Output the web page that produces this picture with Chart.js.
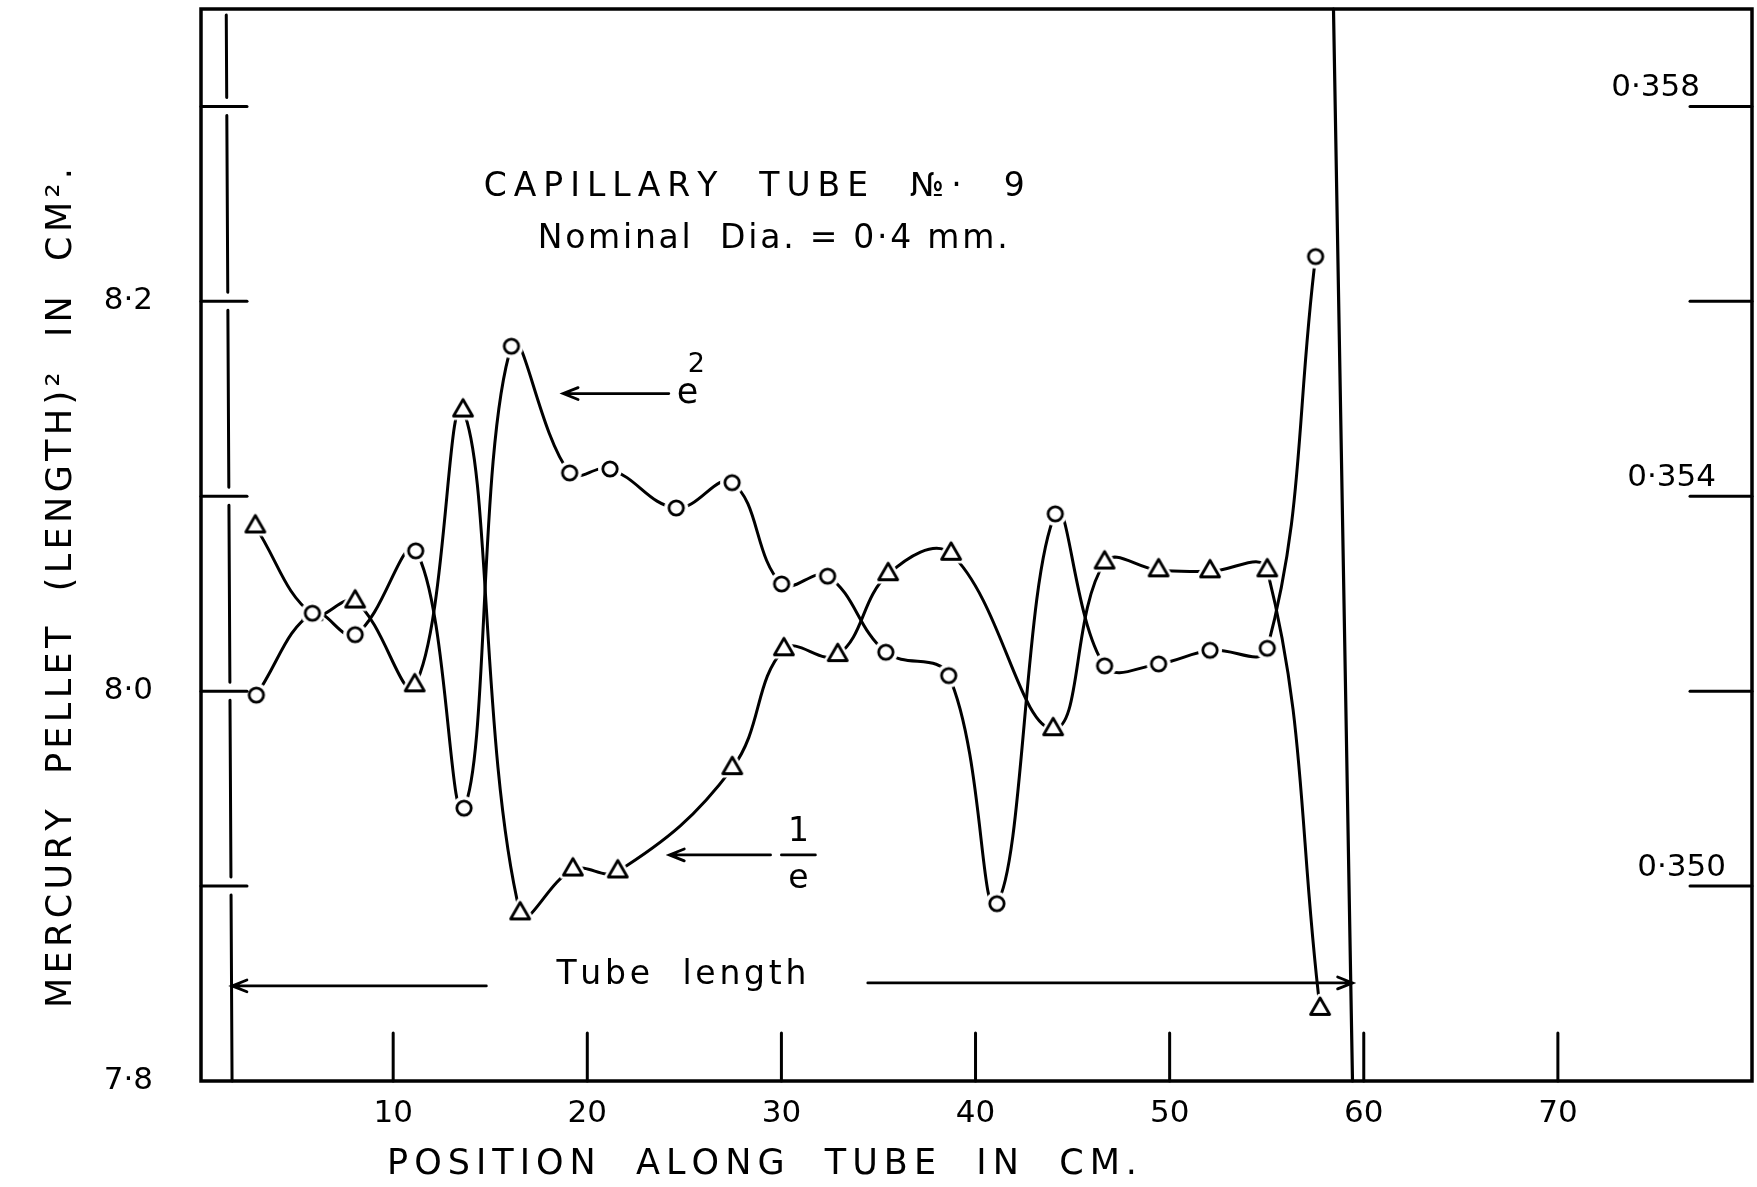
<!DOCTYPE html>
<html>
<head>
<meta charset="utf-8">
<script src="https://cdn.jsdelivr.net/npm/chart.js@4/dist/chart.umd.min.js"></script>
<style>
  html, body { margin: 0; padding: 0; background: #fff; }
</style>
</head>
<body>
<canvas id="chart" width="1757" height="1187"></canvas>
<script>
// e^2 readings (circles) - left axis, cm^2
const e2Pos  = [2.95, 5.84, 8.04, 11.16, 13.65, 16.09, 19.09, 21.17, 24.58, 27.46, 30.01,
                32.38, 35.38, 38.62, 41.10, 44.11, 46.65, 49.43, 52.08, 55.03, 57.52];
const e2Vals = [7.998, 8.040, 8.029, 8.072, 7.940, 8.177, 8.112, 8.114, 8.094, 8.107, 8.055,
                8.059, 8.020, 8.008, 7.891, 8.091, 8.013, 8.014, 8.021, 8.022, 8.223];

// 1/e readings (triangles) - right axis
const invEPos  = [2.90, 5.84, 8.04, 11.11, 13.60, 16.54, 19.26, 21.57, 27.47, 30.13,
                  32.90, 35.50, 38.74, 44.00, 46.65, 49.43, 52.08, 55.03, 57.75];
const invEVals = [0.35369, 0.35279, 0.35292, 0.35206, 0.35488, 0.34972, 0.35017, 0.35015, 0.35121, 0.35243,
                  0.35237, 0.35320, 0.35341, 0.35161, 0.35332, 0.35324, 0.35323, 0.35324, 0.34874];

// axes
const xTicks = [10, 20, 30, 40, 50, 60, 70];
const xTickLabels = ['10', '20', '30', '40', '50', '60', '70'];
const leftTicks = [7.9, 8.0, 8.1, 8.2, 8.3];
const leftLabelVals = [7.8, 8.0, 8.2];
const leftLabels = ['7·8', '8·0', '8·2'];
const rightTicks = [0.350, 0.352, 0.354, 0.356, 0.358];
const rightLabelVals = [0.350, 0.354, 0.358];
const rightLabels = ['0·350', '0·354', '0·358'];

// ends of the tube (x at top, x at bottom of plot)
const tubeStart = [1.4, 1.7];
const tubeEnd = [58.44, 59.42];

const FONT = '"DejaVu Sans", "Liberation Sans", sans-serif';

// marker images with a white halo so the curve stops short of the symbol
function marker(kind) {
  const c = document.createElement('canvas');
  c.width = 36; c.height = 36;
  const g = c.getContext('2d');
  const m = 18;
  function path(r) {
    g.beginPath();
    if (kind === 'circle') {
      g.arc(m, m, r, 0, Math.PI * 2);
    } else {
      g.moveTo(m, m - r);
      g.lineTo(m + r * 0.866, m + r * 0.5);
      g.lineTo(m - r * 0.866, m + r * 0.5);
      g.closePath();
    }
  }
  g.lineJoin = 'round';
  g.fillStyle = '#fff';
  g.strokeStyle = '#fff';
  g.lineWidth = 8;
  path(kind === 'circle' ? 8 : 11);
  g.fill(); g.stroke();
  g.strokeStyle = '#000';
  g.lineWidth = 2.8;
  path(kind === 'circle' ? 7.2 : 11);
  g.fill(); g.stroke();
  return c;
}

function arrow(g, x1, y1, x2, y2) {
  g.beginPath();
  g.moveTo(x1, y1); g.lineTo(x2, y2);
  const a = Math.atan2(y2 - y1, x2 - x1);
  const L = 16, s = 0.38;
  g.moveTo(x2 - L * Math.cos(a - s), y2 - L * Math.sin(a - s));
  g.lineTo(x2, y2);
  g.lineTo(x2 - L * Math.cos(a + s), y2 - L * Math.sin(a + s));
  g.stroke();
}

// spread characters so a string fills a given width (hand lettering look)
function spaced(g, text, cx, cy, width) {
  const chars = [...text];
  const ws = chars.map(ch => g.measureText(ch).width);
  const total = ws.reduce((a, b) => a + b, 0);
  const extra = chars.length > 1 ? (width - total) / (chars.length - 1) : 0;
  let x = cx - width / 2;
  g.textAlign = 'left';
  chars.forEach((ch, i) => { g.fillText(ch, x, cy); x += ws[i] + extra; });
}

const framePlugin = {
  id: 'frame',
  afterDraw(chart) {
    const g = chart.ctx;
    const a = chart.chartArea;
    const sx = chart.scales.x, sy = chart.scales.y, sr = chart.scales.y2;
    const px = v => sx.getPixelForValue(v);
    const py = v => sy.getPixelForValue(v);
    g.save();
    g.strokeStyle = '#000';
    g.fillStyle = '#000';
    g.lineCap = 'round';

    // frame
    g.lineWidth = 3.5;
    g.strokeRect(a.left, a.top, a.right - a.left, a.bottom - a.top);

    // left ticks and labels
    g.lineWidth = 3;
    leftTicks.forEach(v => {
      g.beginPath(); g.moveTo(a.left, py(v)); g.lineTo(a.left + 46, py(v)); g.stroke();
    });
    g.font = '31px ' + FONT;
    g.textBaseline = 'middle';
    g.textAlign = 'right';
    leftLabelVals.forEach((v, i) => g.fillText(leftLabels[i], 153, py(v)));

    // right ticks and labels (labels sit just above their tick, hand placed)
    rightTicks.forEach(v => {
      const y = sr.getPixelForValue(v);
      g.beginPath(); g.moveTo(a.right - 62, y); g.lineTo(a.right, y); g.stroke();
    });
    const rightLabelInset = [26, 36, 52];
    g.textBaseline = 'alphabetic';
    rightLabelVals.forEach((v, i) =>
      g.fillText(rightLabels[i], a.right - rightLabelInset[i], sr.getPixelForValue(v) - 10));

    // x ticks and labels
    xTicks.forEach(v => {
      g.beginPath(); g.moveTo(px(v), a.bottom); g.lineTo(px(v), a.bottom - 48); g.stroke();
    });
    g.textAlign = 'center';
    g.textBaseline = 'middle';
    xTicks.forEach((v, i) => g.fillText(xTickLabels[i], px(v), a.bottom + 33));

    // tube start line, broken where the left ticks cross
    g.lineWidth = 3;
    const xs0 = px(tubeStart[0]), xs1 = px(tubeStart[1]);
    const stops = [a.top + 6].concat(leftTicks.slice().reverse().map(v => py(v))).concat([a.bottom]);
    for (let i = 0; i < stops.length - 1; i++) {
      const y0 = stops[i] + (i === 0 ? 0 : 9);
      const y1 = stops[i + 1] - (i === stops.length - 2 ? 0 : 9);
      const t0 = (y0 - a.top) / (a.bottom - a.top), t1 = (y1 - a.top) / (a.bottom - a.top);
      g.beginPath();
      g.moveTo(xs0 + (xs1 - xs0) * t0, y0);
      g.lineTo(xs0 + (xs1 - xs0) * t1, y1);
      g.stroke();
    }
    // tube end line
    g.lineWidth = 3.2;
    g.beginPath(); g.moveTo(px(tubeEnd[0]), a.top); g.lineTo(px(tubeEnd[1]), a.bottom); g.stroke();

    // tube length arrows and label
    g.lineWidth = 2.8;
    arrow(g, px(14.8), py(7.8488), px(tubeStart[1]), py(7.8488));
    arrow(g, px(34.45), py(7.8503), px(tubeEnd[1]), py(7.8503));
    g.font = '33px ' + FONT;
    spaced(g, 'Tube  length', px(24.85), py(7.8544), 250);

    // title
    g.font = '33px ' + FONT;
    spaced(g, 'CAPILLARY  TUBE  №·  9', px(28.6), py(8.2584), 541);
    spaced(g, 'Nominal  Dia. = 0·4 mm.', px(29.55), py(8.2317), 470);

    // e^2 label
    arrow(g, px(24.2), py(8.1527), px(18.76), py(8.1527));
    g.font = '35px ' + FONT;
    g.textAlign = 'center';
    g.fillText('e', px(25.16), py(8.1527));
    g.font = '27px ' + FONT;
    g.fillText('2', px(25.62), py(8.1675));

    // 1/e label
    arrow(g, px(29.44), py(7.916), px(24.23), py(7.916));
    g.font = '33px ' + FONT;
    g.fillText('1', px(30.88), py(7.9275));
    g.fillText('e', px(30.88), py(7.9035));
    g.lineWidth = 2.8;
    g.beginPath(); g.moveTo(px(30.0), py(7.916)); g.lineTo(px(31.75), py(7.916)); g.stroke();

    // axis titles
    g.font = '35px ' + FONT;
    spaced(g, 'POSITION  ALONG  TUBE  IN  CM.', 762, 1165, 750);
    g.translate(62, 588);
    g.rotate(-Math.PI / 2);
    spaced(g, 'MERCURY  PELLET  (LENGTH)²  IN  CM².', 0, 0, 840);
    g.restore();
  }
};

const circleImg = marker('circle');
const triImg = marker('triangle');

new Chart(document.getElementById('chart'), {
  type: 'line',
  data: {
    datasets: [
      {
        label: 'e²',
        data: e2Pos.map((x, i) => ({ x: x, y: e2Vals[i] })),
        yAxisID: 'y',
        borderColor: '#000',
        borderWidth: 3,
        tension: 0.4,
        pointStyle: circleImg,
        pointRadius: 9,
        fill: false
      },
      {
        label: '1/e',
        data: invEPos.map((x, i) => ({ x: x, y: invEVals[i] })),
        yAxisID: 'y2',
        borderColor: '#000',
        borderWidth: 3,
        tension: 0.4,
        pointStyle: triImg,
        pointRadius: 9,
        fill: false
      }
    ]
  },
  options: {
    responsive: false,
    animation: false,
    layout: { autoPadding: false, padding: { left: 201, right: 5, top: 9, bottom: 106 } },
    plugins: {
      legend: { display: false },
      tooltip: { enabled: false }
    },
    scales: {
      x: { type: 'linear', min: 0.1, max: 80, display: false },
      y: { min: 7.8, max: 8.35, display: false },
      y2: { position: 'right', min: 0.348, max: 0.359, display: false }
    }
  },
  plugins: [framePlugin]
});
</script>
</body>
</html>
